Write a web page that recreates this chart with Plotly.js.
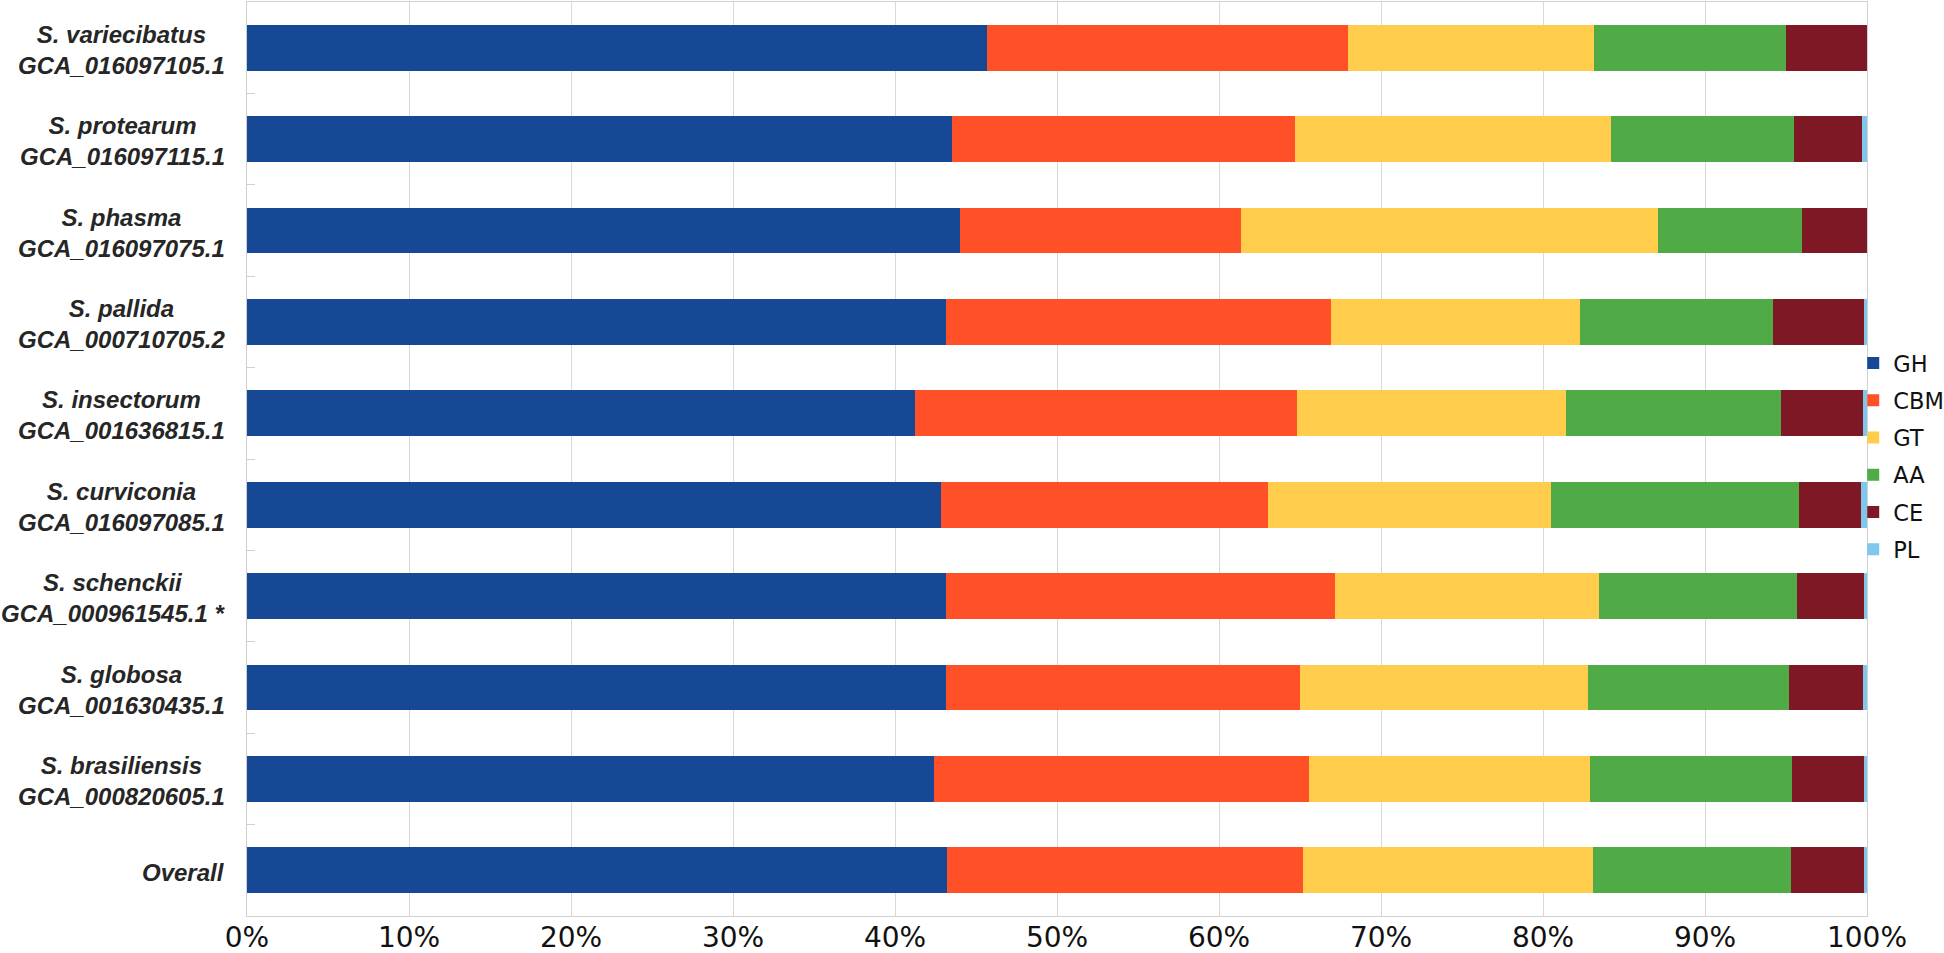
<!DOCTYPE html>
<html>
<head>
<meta charset="utf-8">
<script src="https://cdn.plot.ly/plotly-3.0.1.min.js"></script>
<style>
  html, body { margin: 0; padding: 0; background: #ffffff; }
  #chart { width: 1944px; height: 953px; }
</style>
</head>
<body>
<div id="chart"></div>
<script>
// Rows, top to bottom
var species = ["S. variecibatus", "S. protearum", "S. phasma", "S. pallida", "S. insectorum",
               "S. curviconia", "S. schenckii", "S. globosa", "S. brasiliensis", "Overall"];
var accessions = ["GCA_016097105.1", "GCA_016097115.1", "GCA_016097075.1", "GCA_000710705.2", "GCA_001636815.1",
                  "GCA_016097085.1", "GCA_000961545.1 *", "GCA_001630435.1", "GCA_000820605.1", ""];

// CAZyme class shares (%)
var GH  = [45.69, 43.53, 44.00, 43.14, 41.23, 42.87, 43.14, 43.16, 42.42, 43.24];
var CBM = [22.30, 21.18, 17.36, 23.77, 23.60, 20.15, 24.04, 21.84, 23.14, 21.92];
var GT  = [15.14, 19.49, 25.74, 15.38, 16.62, 17.50, 16.30, 17.76, 17.35, 17.93];
var AA  = [11.87, 11.30,  8.90, 11.91, 13.25, 15.28, 12.22, 12.44, 12.49, 12.21];
var CE  = [ 5.00,  4.20,  4.00,  5.60,  5.05,  3.85,  4.10,  4.55,  4.40,  4.50];
var PL  = [ 0.00,  0.30,  0.00,  0.20,  0.25,  0.35,  0.20,  0.25,  0.20,  0.20];

var seriesNames = ["GH", "CBM", "GT", "AA", "CE", "PL"];
var seriesValues = [GH, CBM, GT, AA, CE, PL];
var seriesColors = ["#164896", "#FF5028", "#FFCC4C", "#50AA46", "#7E1824", "#7EC8EB"];
var xTickVals = [0, 10, 20, 30, 40, 50, 60, 70, 80, 90, 100];
var xTickText = ["0%", "10%", "20%", "30%", "40%", "50%", "60%", "70%", "80%", "90%", "100%"];

var traces = seriesNames.map(function (name, i) {
  return {
    type: "bar",
    orientation: "h",
    name: name,
    legendgroup: name,
    y: species,
    x: seriesValues[i],
    marker: { color: seriesColors[i], line: { width: 0 } },
    hoverinfo: "name+x"
  };
});

var annotations = species.map(function (s, i) {
  var txt = accessions[i] ? (s + "<br>" + accessions[i]) : s;
  return {
    xref: "paper", yref: "y",
    x: -0.0125, y: s,
    xanchor: "right", yanchor: "middle",
    yshift: -2,
    align: "center",
    showarrow: false,
    text: txt,
    font: { family: "Liberation Sans, Arial, sans-serif", size: 24, color: "#262626", weight: "bold", style: "italic" }
  };
});

var layout = {
  width: 1944, height: 953,
  margin: { l: 247, r: 77, t: 2, b: 37, pad: 0, autoexpand: false },
  paper_bgcolor: "#ffffff",
  plot_bgcolor: "#ffffff",
  barmode: "stack",
  bargap: 0.5,
  showlegend: true,
  legend: {
    orientation: "v",
    traceorder: "grouped",
    tracegroupgap: 5,
    x: 0.9915, xanchor: "left",
    y: 0.503, yanchor: "middle",
    bgcolor: "rgba(0,0,0,0)",
    borderwidth: 0,
    font: { family: "DejaVu Sans, sans-serif", size: 22.5, color: "#111111" }
  },
  xaxis: {
    range: [0, 100],
    tickmode: "array",
    tickvals: xTickVals,
    ticktext: xTickText,
    ticklabelstandoff: -4,
    showgrid: true,
    gridcolor: "#d9d9d9",
    gridwidth: 1,
    zeroline: false,
    showline: true,
    linecolor: "#d0d0d0",
    linewidth: 1,
    mirror: true,
    ticks: "",
    tickfont: { family: "DejaVu Sans, sans-serif", size: 28, color: "#111111" },
    fixedrange: true
  },
  yaxis: {
    type: "category",
    categoryorder: "array",
    categoryarray: species,
    autorange: "reversed",
    showticklabels: false,
    tickson: "boundaries",
    ticks: "inside",
    ticklen: 8,
    tickcolor: "#d0d0d0",
    tickwidth: 1,
    showgrid: false,
    zeroline: false,
    showline: true,
    linecolor: "#d0d0d0",
    linewidth: 1,
    mirror: true,
    fixedrange: true
  },
  annotations: annotations
};

Plotly.newPlot("chart", traces, layout, { displayModeBar: false, staticPlot: true });
</script>
</body>
</html>
